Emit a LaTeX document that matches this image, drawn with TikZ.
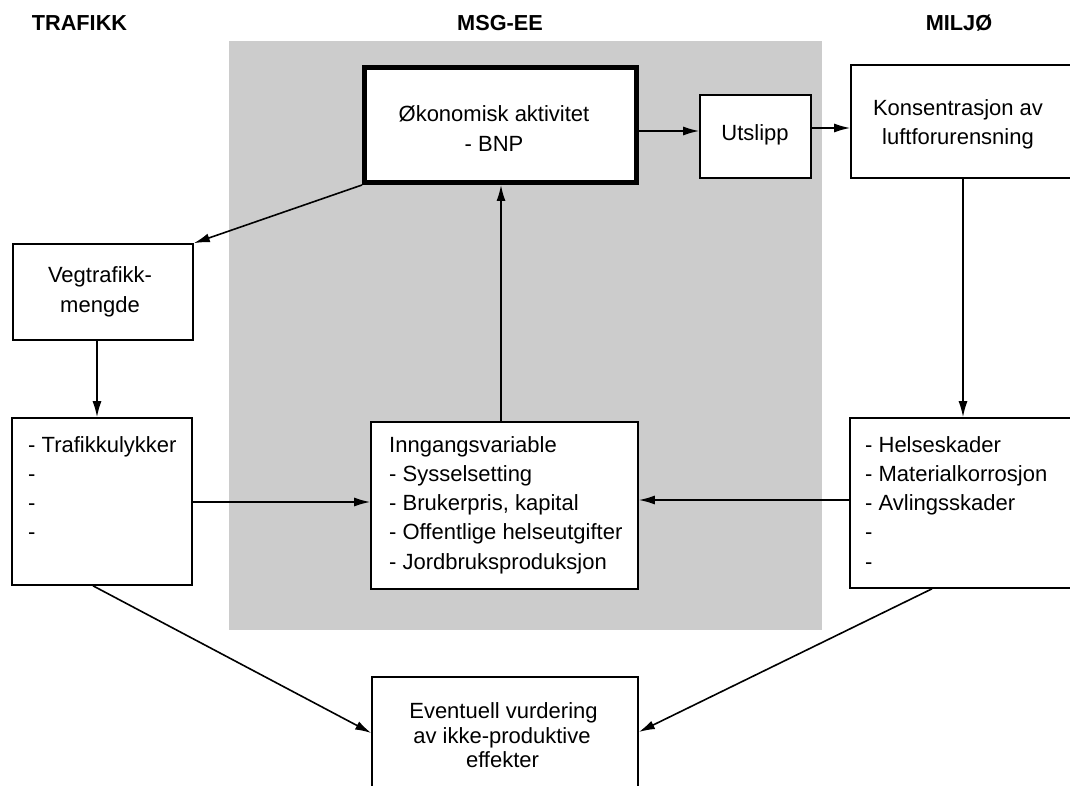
\documentclass[tikz,border=0pt]{standalone}
\usepackage{fontspec}
\setmainfont{Liberation Sans}
\usetikzlibrary{arrows.meta}
\begin{document}
\begin{tikzpicture}[x=1pt,y=-1pt]
\tikzset{
  box/.style={draw, line width=1.6pt, fill=white, inner sep=0pt},
  bigbox/.style={draw, line width=5pt, fill=white, inner sep=0pt},
  txt/.style={font=\fontsize{22}{29.5}\selectfont, inner sep=0pt},
  ttl/.style={font=\fontsize{21.7}{26}\selectfont\bfseries, inner sep=0pt},
  arr/.style={line width=1.6pt, -{Latex[length=16pt,width=9pt]}},
}
\clip (0,0) rectangle (1070,786);
\fill[white] (0,0) rectangle (1070,786);
% shaded panel
\node[fill=black!20, inner sep=0pt, minimum width=593pt, minimum height=589pt] (panel) at (525.5,335.5) {};
% titles
\node[ttl, anchor=base] (t1) at (79.5,31) {TRAFIKK};
\node[ttl, anchor=base] (t2) at (500,31) {MSG-EE};
\node[ttl, anchor=base] (t3) at (959,31) {MILJØ};
% boxes
\node[bigbox, minimum width=272pt, minimum height=115pt] (okon) at (500.5,125) {};
\node[box, minimum width=111pt, minimum height=83pt] (utslipp) at (755.5,136.5) {};
\node[box, minimum width=249pt, minimum height=113pt] (kons) at (975.5,121.5) {};
\node[box, minimum width=180pt, minimum height=96pt] (veg) at (103,292) {};
\node[box, minimum width=180pt, minimum height=167pt] (trafik) at (102,501.5) {};
\node[box, minimum width=267pt, minimum height=167pt] (inng) at (504.5,505.5) {};
\node[box, minimum width=250pt, minimum height=170pt] (helse) at (975,503) {};
\node[box, minimum width=266pt, minimum height=123pt] (eval) at (505,738.5) {};
% texts
\node[txt, anchor=base] (okon1) at (494,122) {Økonomisk aktivitet};
\node[txt, anchor=base] (okon2) at (494,152) {- BNP};
\node[txt, anchor=base] (uts1) at (755,141) {Utslipp};
\node[txt, anchor=base] (kons1) at (958,116) {Konsentrasjon av};
\node[txt, anchor=base] (kons2) at (958,145) {luftforurensning};
\node[txt, anchor=base] (veg1) at (100,282) {Vegtrafikk-};
\node[txt, anchor=base] (veg2) at (100,312) {mengde};
\foreach \t [count=\i from 0] in {- Trafikkulykker, -, -, -}
  \node[txt, anchor=base west] (tr\i) at (28,{452+29.3*\i}) {\t};
\foreach \t [count=\i from 0] in {Inngangsvariable, - Sysselsetting, {- Brukerpris, kapital}, - Offentlige helseutgifter, - Jordbruksproduksjon}
  \node[txt, anchor=base west] (in\i) at (389,{452+29.3*\i}) {\t};
\foreach \t [count=\i from 0] in {- Helseskader, - Materialkorrosjon, - Avlingsskader, -, -}
  \node[txt, anchor=base west] (he\i) at (865,{452+29.3*\i}) {\t};
\node[txt, anchor=base] (ev1) at (503.5,718) {Eventuell vurdering};
\node[txt, anchor=base] (ev2) at (502,743) {av ikke-produktive};
\node[txt, anchor=base] (ev3) at (502.5,767) {effekter};
% connectors
\draw[arr] (okon.east |- 0,131) -- (utslipp.west |- 0,131);
\draw[arr] (utslipp.east |- 0,128) -- (kons.west |- 0,128);
\draw[arr] (okon.south west) -- (veg.north east);
\draw[arr] (veg.south -| 97,0) -- (trafik.north -| 97,0);
\draw[arr] (trafik.east |- 0,502) -- (inng.west |- 0,502);
\draw[arr] (inng.north -| 501,0) -- (okon.south -| 501,0);
\draw[arr] (kons.south -| 963,0) -- (helse.north -| 963,0);
\draw[arr] (helse.west |- 0,500) -- (inng.east |- 0,500);
\draw[arr] (trafik.south -| 93,0) -- (eval.west |- 0,733);
\draw[arr] (helse.south -| 932,0) -- (eval.east |- 0,732);
\end{tikzpicture}
\end{document}
